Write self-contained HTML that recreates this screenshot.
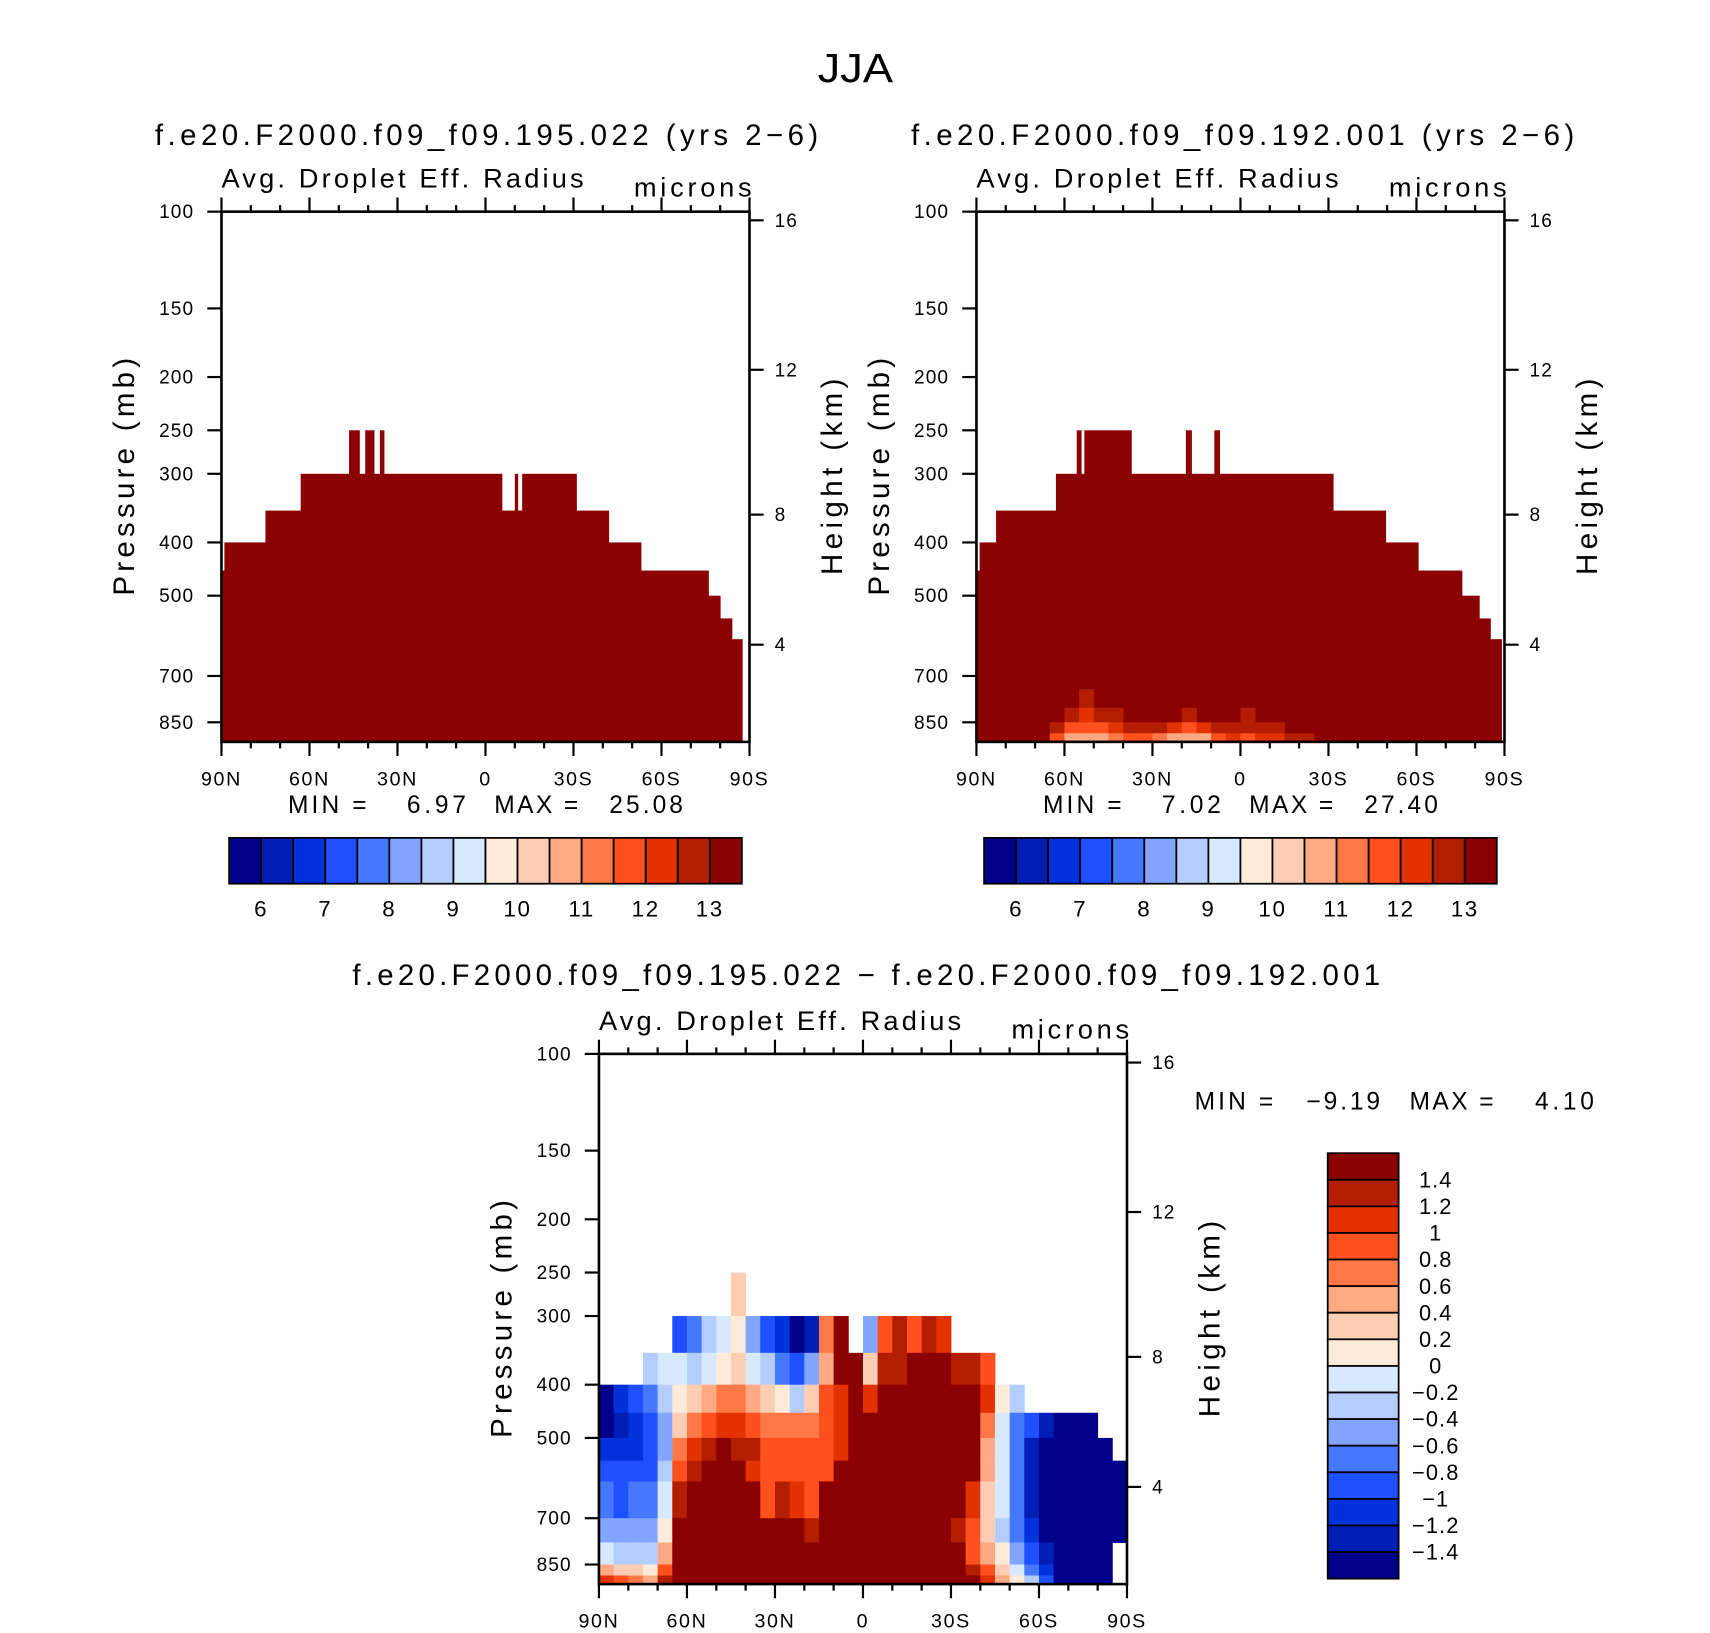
<!DOCTYPE html>
<html><head><meta charset="utf-8"><style>
html,body{margin:0;padding:0;background:#fff;}
svg{display:block;font-family:"Liberation Sans",sans-serif;}
</style></head><body>
<svg id="fig" xmlns="http://www.w3.org/2000/svg" width="1710" height="1633" viewBox="0 0 1567.4 1496.8">
<rect x="0" y="0" width="1567.4" height="1496.8" fill="#fff"/>
<text x="784" y="75" font-size="37" text-anchor="middle" textLength="69" lengthAdjust="spacingAndGlyphs">JJA</text>
<text x="446" y="133" font-size="27" text-anchor="middle" textLength="608" lengthAdjust="spacing">f.e20.F2000.f09_f09.195.022 (yrs 2−6)</text>
<text x="1139" y="133" font-size="27" text-anchor="middle" textLength="608" lengthAdjust="spacing">f.e20.F2000.f09_f09.192.001 (yrs 2−6)</text>
<text x="794" y="903" font-size="27" text-anchor="middle" textLength="942" lengthAdjust="spacing">f.e20.F2000.f09_f09.195.022 − f.e20.F2000.f09_f09.192.001</text>
<g id="layer"></g>
</svg>
<script>
// ---------- data ----------
const colors = ['#00008b','#001eb4','#0032dc','#1e50ff','#4678ff','#82a5ff','#b4cdff','#d7e9ff','#ffebd7','#ffcdb4','#ffaa82','#ff7846','#ff501e','#e13200','#b41e00','#8b0000'];
const absLevels = [6,6.5,7,7.5,8,8.5,9,9.5,10,10.5,11,11.5,12,12.5,13];
const absTickLabels = ['6','7','8','9','10','11','12','13'];
const diffLevels = [-1.4,-1.2,-1,-0.8,-0.6,-0.4,-0.2,0,0.2,0.4,0.6,0.8,1,1.2,1.4];
const diffTickLabels = ['1.4','1.2','1','0.8','0.6','0.4','0.2','0','−0.2','−0.4','−0.6','−0.8','−1','−1.2','−1.4'];
const pressureTicks = [100,150,200,250,300,400,500,700,850];
const heightTicks = [16,12,8,4];
const heightTickPressure = [103.7,194,356,614];
const latTicks = [90,60,30,0,-30,-60,-90];
const latTickLabels = ['90N','60N','30N','0','30S','60S','90S'];
const minmax1 = ['6.97','25.08'];
const minmax2 = ['7.02','27.40'];
const minmax3 = ['−9.19','4.10'];

const p1Edges = [90,89,75,63,46.5,43,41,38,36,34.6,-5.6,-10,-11,-12.5,-31,-42,-53,-76,-80,-84,-87.5];
const p1Top = [450,400,350,300,250,300,250,300,250,300,350,300,350,300,350,400,450,500,550,600];
const p2Edges = [90,88.9,83.3,62.9,55.8,54.3,53.2,37.2,18.6,16.7,8.9,7.1,-31.6,-49.5,-60.6,-75.5,-81.4,-85.2,-89];
const p2Top = [450,400,350,300,250,300,250,300,250,300,250,300,350,400,450,500,550,600];
// panel 2 low-level values (5 deg columns 90N->90S)
const p2RowTop = [740,800,850,890];
const p2RowBot = [800,850,890,922];
const p2RowA = [16,16,16,16,16,16,13.2,12.8,13.2,16,16,16,16,16,16,16,16,16,16,16,16,16,16,16,16,16,16,16,16,16,16,16,16,16,16,16];
const p2RowB = [16,16,16,16,16,13.2,12.6,12.3,12.6,12.9,13.1,16,16,13.2,12.9,13.1,16,13.2,12.9,13.2,16,16,16,16,16,16,16,16,16,16,16,16,16,16,16,16];
const p2RowC = [16,16,16,16,16,12.6,11.8,11.6,11.9,12.3,12.5,12.6,12.5,12.2,11.8,12.2,12.7,12.8,12.5,12.7,12.9,13.1,16,16,16,16,16,16,16,16,16,16,16,16,16,16];
const p2RowD = [16,16,16,16,13,11.6,10.7,10.5,10.9,11.3,11.7,11.7,11.3,10.8,10.5,10.9,11.7,12.1,11.9,12.1,12.3,12.5,12.8,16,16,16,16,16,16,16,16,16,16,16,16,16];
const p2RowsAll = [p2RowA,p2RowB,p2RowC,p2RowD];

const diffPEdges = [250,300,350,400,450,500,550,600,700,775,850,890,922];
const n = null;
const diffCols = [
[n,n,n,-1.5,-1.5,-1.2,-1.0,-0.8,-0.5,-0.2,0.5,1.0],
[n,n,n,-1.2,-1.3,-1.1,-1.0,-0.9,-0.6,-0.3,0.3,0.8],
[n,n,n,-1.0,-1.1,-1.2,-1.0,-0.8,-0.6,-0.4,0.2,0.6],
[n,n,-0.4,-0.8,-0.9,-1.0,-0.9,-0.7,-0.5,-0.3,0.1,0.5],
[n,n,-0.2,-0.4,-0.6,-0.6,-0.4,-0.2,0.1,0.4,0.9,1.3],
[n,-0.9,-0.1,0.1,0.3,0.6,0.9,1.2,1.6,1.6,1.6,1.6],
[n,-0.7,-0.3,0.2,0.7,1.0,1.3,1.6,1.6,1.6,1.6,1.6],
[n,-0.4,-0.2,0.4,0.9,1.2,1.6,1.6,1.6,1.6,1.6,1.6],
[n,-0.2,0.1,0.6,1.1,1.6,1.6,1.6,1.6,1.6,1.6,1.6],
[0.3,0.0,0.3,0.6,1.0,1.3,1.6,1.6,1.6,1.6,1.6,1.6],
[n,-0.5,-0.1,0.4,0.9,1.2,1.0,1.6,1.6,1.6,1.6,1.6],
[n,-0.9,-0.4,0.3,0.7,0.9,0.8,0.9,1.6,1.6,1.6,1.6],
[n,-1.2,-0.8,0.0,0.6,0.8,0.9,1.2,1.6,1.6,1.6,1.6],
[n,-1.5,-1.0,-0.3,0.6,0.8,0.8,1.1,1.6,1.6,1.6,1.6],
[n,-1.3,-0.6,0.3,0.7,0.9,0.8,0.8,1.2,1.6,1.6,1.6],
[n,0.6,0.5,0.8,0.9,0.8,0.8,1.6,1.6,1.6,1.6,1.6],
[n,1.6,1.4,1.0,1.0,1.1,1.6,1.6,1.6,1.6,1.6,1.6],
[n,n,1.6,1.6,1.5,1.6,1.6,1.6,1.6,1.6,1.6,1.6],
[n,-0.6,0.2,1.0,1.6,1.6,1.6,1.6,1.6,1.6,1.6,1.6],
[n,0.8,1.2,1.4,1.6,1.6,1.6,1.6,1.6,1.6,1.6,1.6],
[n,1.2,1.3,1.6,1.6,1.6,1.6,1.6,1.6,1.6,1.6,1.6],
[n,0.9,1.4,1.6,1.6,1.6,1.6,1.6,1.6,1.6,1.6,1.6],
[n,1.3,1.6,1.6,1.6,1.6,1.6,1.6,1.6,1.6,1.6,1.6],
[n,1.1,1.6,1.6,1.6,1.6,1.6,1.6,1.6,1.6,1.6,1.6],
[n,n,1.3,1.6,1.6,1.6,1.6,1.6,1.2,1.4,1.6,1.6],
[n,n,1.2,1.6,1.5,1.5,1.4,1.0,0.8,0.9,1.3,1.5],
[n,n,0.8,1.0,0.6,0.5,0.5,0.3,0.2,0.5,0.8,1.1],
[n,n,n,0.1,-0.1,-0.1,-0.1,-0.2,-0.3,0.0,0.3,0.5],
[n,n,n,-0.3,-0.7,-0.8,-0.8,-0.8,-0.8,-0.5,-0.1,0.1],
[n,n,n,n,-1.0,-1.3,-1.4,-1.3,-1.2,-1.0,-0.7,-0.4],
[n,n,n,n,-1.3,-1.5,-1.5,-1.5,-1.5,-1.4,-1.2,-1.0],
[n,n,n,n,-1.6,-1.6,-1.6,-1.6,-1.6,-1.6,-1.6,-1.6],
[n,n,n,n,-1.6,-1.6,-1.6,-1.6,-1.6,-1.6,-1.6,-1.6],
[n,n,n,n,-1.6,-1.6,-1.6,-1.6,-1.6,-1.6,-1.6,-1.6],
[n,n,n,n,n,-1.6,-1.6,-1.6,-1.6,-1.6,-1.6,-1.6],
[n,n,n,n,n,n,-1.6,-1.6,-1.6,n,n,n]
];

// ---------- helpers ----------
const NS='http://www.w3.org/2000/svg';
const layer=document.getElementById('layer');
function mk(tag,attrs,parent){const e=document.createElementNS(NS,tag);for(const k in attrs)e.setAttribute(k,attrs[k]);(parent||layer).appendChild(e);return e;}
const PW=484, PH=486, PBOT=922;
function yOfP(top,p){return top+(Math.log10(p)-2)*503.6;}
function xOfLat(left,lat){return left+(90-lat)/180*PW;}
function classOf(levels,v){let c=0;for(const l of levels){if(v>=l)c++;}return Math.min(c,15);}

function axes(L,T,prefix){
  const g=mk('g',{});
  
  
  const fr=mk('rect',{x:L,y:T,width:PW,height:PH,fill:'none',stroke:'#000','stroke-width':2.4},g);
  
  
  pressureTicks.forEach(p=>{
    const y=yOfP(T,p);
    const t=mk('line',{x1:L-13,x2:L,y1:y,y2:y,stroke:'#000','stroke-width':2},g);
    
    
    const tx=mk('text',{x:L-25,y:y+6,'font-size':17.5,'text-anchor':'end','letter-spacing':1},g);
    tx.textContent=p;
    
    
  });
  heightTicks.forEach((h,i)=>{
    const y=yOfP(T,heightTickPressure[i]);
    const t=mk('line',{x1:L+PW,x2:L+PW+13,y1:y,y2:y,stroke:'#000','stroke-width':2},g);
    
    
    const tx=mk('text',{x:L+PW+23,y:y+6,'font-size':17.5,'letter-spacing':1},g);
    tx.textContent=h;
    
    
  });
  for(let lat=90;lat>=-90;lat-=10){
    const x=xOfLat(L,lat);const major=(lat%30===0);
    const tb=mk('line',{x1:x,x2:x,y1:T+PH,y2:T+PH+(major?13:6),stroke:'#000','stroke-width':2},g);
    
    
    const tt=mk('line',{x1:x,x2:x,y1:T,y2:T-(major?13:6),stroke:'#000','stroke-width':2},g);
    
    
  }
  latTicks.forEach((lat,i)=>{
    const tx=mk('text',{x:xOfLat(L,lat),y:T+PH+40,'font-size':18,'text-anchor':'middle','letter-spacing':1.5},g);
    tx.textContent=latTickLabels[i];
    
    
  });
  const sub=mk('text',{x:L,y:T-22,'font-size':25,textLength:332,lengthAdjust:'spacing'},g);
  sub.textContent='Avg. Droplet Eff. Radius';
  
  
  const un=mk('text',{x:L+PW+2-108,y:T-14,'font-size':25,textLength:108,lengthAdjust:'spacing'},g);
  un.textContent='microns';
  
  
  const py=T+243;
  const pt=mk('text',{x:0,y:0,'font-size':27,'text-anchor':'middle',textLength:218,lengthAdjust:'spacing',transform:'translate('+(L-80)+','+py+') rotate(-90)'},g);
  pt.textContent='Pressure (mb)';
  
  
  const ht=mk('text',{x:0,y:0,'font-size':27,'text-anchor':'middle',textLength:180,lengthAdjust:'spacing',transform:'translate('+(L+PW+85)+','+py+') rotate(-90)'},g);
  ht.textContent='Height (km)';
  
  
}

function minmaxText(prefix,y,vals,xs){
  const parts=[['MIN =',xs[0],72],[vals[0],xs[1],13.5*vals[0].length],['MAX =',xs[2],77],[vals[1],xs[3],13.5*vals[1].length]];
  parts.forEach((p,i)=>{
    const isNum=(i%2===1);
    const x=isNum?p[1]-p[2]:p[1];
    const t=mk('text',{x:x,y:y,'font-size':22.5,textLength:p[2],lengthAdjust:'spacing'});
    t.textContent=p[0];
    
    
  });
}

function cloudShape(L,T,prefix,edges,tops){
  for(let i=0;i<tops.length;i++){
    const x1=xOfLat(L,edges[i]),x2=xOfLat(L,edges[i+1]);
    const y1=yOfP(T,tops[i]),y2=yOfP(T,PBOT);
    const r=mk('rect',{x:x1,y:y1,width:x2-x1+0.4,height:y2-y1,fill:colors[15]});
    
    
  }
}

function hColorbar(L,T,prefix){
  const W=470/16;
  for(let i=0;i<16;i++){
    const r=mk('rect',{x:L+i*W,y:T,width:W,height:42,fill:colors[i],stroke:'#000','stroke-width':1.6});
    
    
  }
  absTickLabels.forEach((lab,k)=>{
    const t=mk('text',{x:L+(2*k+1)*W,y:T+72,'font-size':20.5,'text-anchor':'middle','letter-spacing':1.5});
    t.textContent=lab;
    
    
  });
}

// ---------- panel 1 ----------
const L1=203,T1=194;
cloudShape(L1,T1,'panel1',p1Edges,p1Top);
axes(L1,T1,'panel1');
minmaxText('panel1',745,minmax1,[264,427,453,626]);
hColorbar(210,768,'panel1');

// ---------- panel 2 ----------
const L2=895,T2=194;
cloudShape(L2,T2,'panel2',p2Edges,p2Top);
p2RowsAll.forEach((row,ri)=>{
  row.forEach((v,ci)=>{
    if(v>=13) return;
    const x1=xOfLat(L2,90-5*ci),x2=xOfLat(L2,85-5*ci);
    const y1=yOfP(T2,p2RowTop[ri]),y2=yOfP(T2,p2RowBot[ri]);
    const r=mk('rect',{x:x1,y:y1,width:x2-x1+0.4,height:y2-y1+0.4,fill:colors[classOf(absLevels,v)]});
    
    
  });
});
axes(L2,T2,'panel2');
minmaxText('panel2',745,minmax2,[956,1119,1145,1318]);
hColorbar(902,768,'panel2');

// ---------- panel 3 ----------
const L3=549,T3=966;
diffCols.forEach((col,ci)=>{
  col.forEach((v,ri)=>{
    if(v===null) return;
    const x1=xOfLat(L3,90-5*ci),x2=xOfLat(L3,85-5*ci);
    const y1=yOfP(T3,diffPEdges[ri]),y2=yOfP(T3,diffPEdges[ri+1]);
    const r=mk('rect',{x:x1,y:y1,width:x2-x1+0.4,height:y2-y1+0.4,fill:colors[classOf(diffLevels,v)]});
    
    
  });
});
axes(L3,T3,'panel3');
minmaxText('panel3',1017,minmax3,[1095,1265,1292,1461]);
(function(){
  const X=1217,Y=1057,W=65,H=390/16;
  for(let i=0;i<16;i++){
    const r=mk('rect',{x:X,y:Y+i*H,width:W,height:H,fill:colors[15-i],stroke:'#000','stroke-width':1.6});
    
    
  }
  diffTickLabels.forEach((lab,k)=>{
    const t=mk('text',{x:1316,y:Y+(k+1)*H+7,'font-size':20,'text-anchor':'middle','letter-spacing':1});
    t.textContent=lab;
    
    
  });
})();
</script>
</body></html>
